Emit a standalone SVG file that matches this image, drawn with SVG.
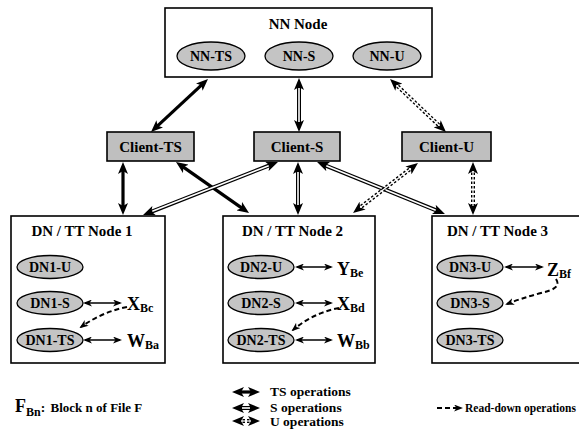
<svg xmlns="http://www.w3.org/2000/svg" width="579" height="430" viewBox="0 0 579 430" font-family="'Liberation Serif','DejaVu Serif',serif" font-weight="bold">
<defs>
<marker id="ah" viewBox="0 0 12 10" refX="6" refY="5" markerWidth="12" markerHeight="10" orient="auto-start-reverse" markerUnits="userSpaceOnUse"><path d="M0,0 L12,5 L0,10 L3,5 z" fill="#000"/></marker>
<marker id="as" viewBox="0 0 9 7" refX="7" refY="3.5" markerWidth="9" markerHeight="7" orient="auto-start-reverse" markerUnits="userSpaceOnUse"><path d="M0,0 L9,3.5 L0,7 L2.5,3.5 z" fill="#000"/></marker>
</defs>
<style>
text{font-family:"Liberation Serif","DejaVu Serif",serif;font-weight:bold;fill:#000}
.box{fill:#fff;stroke:#000;stroke-width:1.6}
.cli{fill:#bfbfbf;stroke:#000;stroke-width:1.6}
.ell{fill:#c4c4c4;stroke:#000;stroke-width:1.3}
.t{font-size:15px;text-anchor:middle}
.e{font-size:14px;text-anchor:middle}
.big{font-size:18px}
.sub{font-size:12px}
.lg{font-size:13.5px}
.ts{fill:none;stroke:#000;stroke-width:3.2;marker-start:url(#ah);marker-end:url(#ah)}
.s{fill:none;stroke:#000;stroke-width:4;marker-start:url(#ah);marker-end:url(#ah)}
.sw{fill:none;stroke:#fff;stroke-width:1.6}
.u{fill:none;stroke:#000;stroke-width:4;stroke-dasharray:2.5 2;marker-start:url(#ah);marker-end:url(#ah)}
.uw{fill:none;stroke:#fff;stroke-width:1.2}
.thin{fill:none;stroke:#000;stroke-width:1.3;marker-start:url(#as);marker-end:url(#as)}
.rd{fill:none;stroke:#000;stroke-width:2;stroke-dasharray:5 3;marker-end:url(#as)}
</style>

<g id="connectors">
<path class="ts" d="M155.4,127.9 L203.6,83.1"/>
<path class="s" d="M299,84 L299,126"/><path class="sw" d="M299,88 L299,122"/>
<path class="u" d="M394.4,83.1 L441.6,127.9"/><path class="uw" d="M396.5,85.2 L439.5,125.8"/>
<path class="ts" d="M123,168 L123,209"/>
<path class="ts" d="M180.9,165.4 L244.1,209.6"/>
<path class="s" d="M272.4,164.2 L148.6,212.8"/><path class="sw" d="M268.7,165.7 L152.3,211.3"/>
<path class="s" d="M298,168 L298,209"/><path class="sw" d="M298,172 L298,205"/>
<path class="s" d="M322.6,164.3 L439.4,211.7"/><path class="sw" d="M326.3,165.8 L435.7,210.2"/>
<path class="u" d="M413.2,166.7 L357.8,209.3"/><path class="uw" d="M410.9,168.5 L360.1,207.5"/>
<path class="u" d="M473,168 L473,209"/><path class="uw" d="M473,171 L473,206"/>
</g>

<g id="nn-node">
<rect class="box" x="165" y="8" width="267" height="69"/>
<text class="t" x="298" y="29">NN Node</text>
<ellipse class="ell" cx="211" cy="56" rx="34" ry="14"/><text class="e" x="211" y="61">NN-TS</text>
<ellipse class="ell" cx="299" cy="56" rx="34" ry="14"/><text class="e" x="299" y="61">NN-S</text>
<ellipse class="ell" cx="387" cy="56" rx="34" ry="14"/><text class="e" x="387" y="61">NN-U</text>
</g>

<g id="client-ts"><rect class="cli" x="107" y="132" width="87" height="29"/><text class="t" x="150.5" y="151.5">Client-TS</text></g>
<g id="client-s"><rect class="cli" x="254" y="132" width="86" height="29"/><text class="t" x="297" y="151.5">Client-S</text></g>
<g id="client-u"><rect class="cli" x="402" y="132" width="89" height="29"/><text class="t" x="446.5" y="151.5">Client-U</text></g>

<g id="dn1">
<rect class="box" x="11" y="216" width="154" height="147"/>
<text class="t" x="82" y="236">DN / TT Node 1</text>
<ellipse class="ell" cx="50" cy="267" rx="33" ry="11.5"/><text class="e" x="50" y="272">DN1-U</text>
<ellipse class="ell" cx="50" cy="303" rx="33" ry="11.5"/><text class="e" x="50" y="308">DN1-S</text>
<ellipse class="ell" cx="50" cy="340" rx="33" ry="11.5"/><text class="e" x="50" y="345">DN1-TS</text>
<path class="thin" d="M85,303 L120,303"/>
<path class="thin" d="M85,340 L120,340"/>
<text x="127" y="310"><tspan class="big">X</tspan><tspan class="sub" dy="2">Bc</tspan></text>
<text x="127" y="347"><tspan class="big">W</tspan><tspan class="sub" dy="2">Ba</tspan></text>
<path class="rd" d="M127,307 Q102,312 81,327"/>
</g>

<g id="dn2">
<rect class="box" x="223" y="216" width="152" height="147"/>
<text class="t" x="292.5" y="236">DN / TT Node 2</text>
<ellipse class="ell" cx="261" cy="267" rx="33" ry="11.5"/><text class="e" x="261" y="272">DN2-U</text>
<ellipse class="ell" cx="261" cy="303" rx="33" ry="11.5"/><text class="e" x="261" y="308">DN2-S</text>
<ellipse class="ell" cx="261" cy="340" rx="33" ry="11.5"/><text class="e" x="261" y="345">DN2-TS</text>
<path class="thin" d="M297,267 L331,267"/>
<path class="thin" d="M297,303 L331,303"/>
<path class="thin" d="M297,340 L331,340"/>
<text x="337" y="275"><tspan class="big">Y</tspan><tspan class="sub" dy="2">Be</tspan></text>
<text x="337" y="310"><tspan class="big">X</tspan><tspan class="sub" dy="2">Bd</tspan></text>
<text x="337" y="347"><tspan class="big">W</tspan><tspan class="sub" dy="2">Bb</tspan></text>
<path class="rd" d="M339,308 Q313,313 293,330"/>
</g>

<g id="dn3">
<rect class="box" x="432" y="216" width="160" height="147"/>
<text class="t" x="497.5" y="236">DN / TT Node 3</text>
<ellipse class="ell" cx="470" cy="267" rx="33" ry="11.5"/><text class="e" x="470" y="272">DN3-U</text>
<ellipse class="ell" cx="470" cy="303" rx="33" ry="11.5"/><text class="e" x="470" y="308">DN3-S</text>
<ellipse class="ell" cx="470" cy="340" rx="33" ry="11.5"/><text class="e" x="470" y="345">DN3-TS</text>
<path class="thin" d="M506,267 L542,267"/>
<text x="547" y="276"><tspan class="big">Z</tspan><tspan class="sub" dy="2">Bf</tspan></text>
<path class="rd" d="M556,279 C561,287 553,290 541,293 Q522,298 507,304"/>
</g>

<g id="legend">
<text x="15" y="412"><tspan class="big">F</tspan><tspan class="sub" dy="4">Bn</tspan><tspan class="lg" dy="-4">: </tspan><tspan font-size="13px" dx="2">Block n of File F</tspan></text>
<path class="ts" d="M238,392 L254,392"/>
<text class="lg" x="270" y="396">TS operations</text>
<path class="s" d="M238,408 L254,408"/><path class="sw" d="M242,408 L250,408"/>
<text class="lg" x="270" y="412">S operations</text>
<path class="u" d="M238,421 L254,421"/><path class="uw" d="M242,421 L250,421"/>
<text class="lg" x="270" y="426">U operations</text>
<path class="rd" d="M437,408 L461,408"/>
<text font-size="11.5px" x="465" y="412">Read-down operations</text>
</g>
</svg>
